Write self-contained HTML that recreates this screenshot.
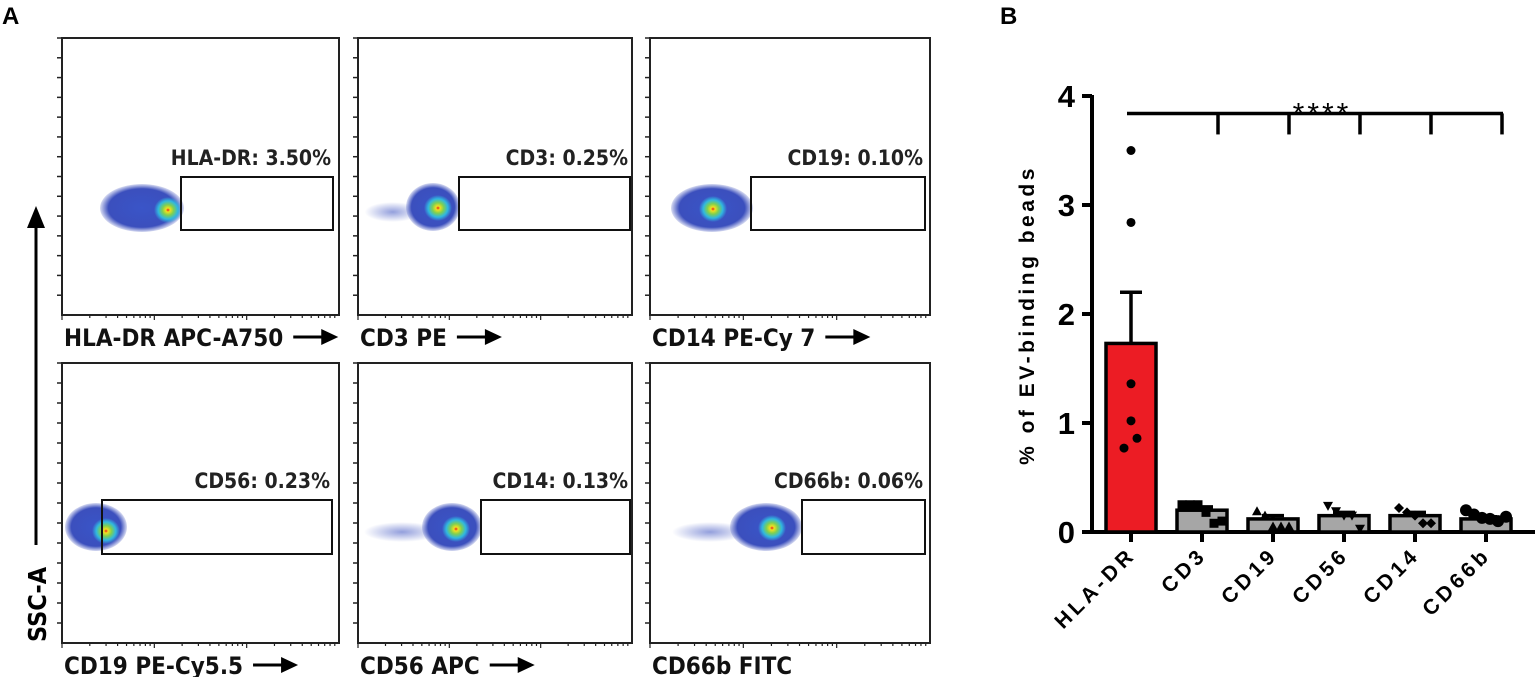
<!DOCTYPE html>
<html><head><meta charset="utf-8"><style>
html,body{margin:0;padding:0;background:#fff}
body{width:1535px;height:677px;overflow:hidden;font-family:"Liberation Sans",sans-serif}
</style></head><body>
<svg id="fig" width="1535" height="677" viewBox="0 0 1535 677" xmlns="http://www.w3.org/2000/svg">
<defs>
<radialGradient id="core">
<stop offset="0" stop-color="#e8201a"/>
<stop offset="0.15" stop-color="#f0e020"/>
<stop offset="0.4" stop-color="#7fd050"/>
<stop offset="0.7" stop-color="#30b8e0"/>
<stop offset="1" stop-color="#30b8e0" stop-opacity="0"/>
</radialGradient>
<radialGradient id="body">
<stop offset="0" stop-color="#3a55c8"/>
<stop offset="0.8" stop-color="#3b4fbd"/>
<stop offset="1" stop-color="#3b4fbd" stop-opacity="0.2"/>
</radialGradient>
<radialGradient id="tail">
<stop offset="0" stop-color="#3a50c0" stop-opacity="0.55"/>
<stop offset="1" stop-color="#3a50c0" stop-opacity="0"/>
</radialGradient>
</defs>
<text x="2" y="24" font-size="24" font-weight="bold">A</text>
<text x="1000" y="24" font-size="24" font-weight="bold">B</text>
<g id="flow"></g>
<g id="ssc">
<line x1="36" y1="225" x2="36" y2="545" stroke="#000" stroke-width="3"/>
<polygon points="27,228 45,228 36,206" fill="#000"/>
<text transform="translate(46,642) rotate(-90)" font-size="25" font-weight="bold" font-family="DejaVu Sans Condensed, Liberation Sans, sans-serif">SSC-A</text>
</g>
<g id="bars"></g>
</svg>
<script>
const NS="http://www.w3.org/2000/svg";
function mk(tag,attrs,parent){const e=document.createElementNS(NS,tag);for(const k in attrs)e.setAttribute(k,attrs[k]);parent.appendChild(e);return e;}
// ---- Flow panels ----
const flow=document.getElementById('flow');
const panels=[
 {x:62,y:38,w:277,h:277,label:"HLA-DR APC-A750",gate:"HLA-DR: 3.50%",gx:181,gw:152,gy:177,gh:53,cx:142,cy:208,rx:42,ry:24,kx:168,ky:210,tx:0,arrow:true},
 {x:358,y:38,w:274,h:277,label:"CD3 PE",gate:"CD3: 0.25%",gx:459,gw:171,gy:177,gh:53,cx:433,cy:207,rx:27,ry:24,kx:438,ky:208,tx:40,arrow:true},
 {x:650,y:38,w:280,h:277,label:"CD14 PE-Cy 7",gate:"CD19: 0.10%",gx:751,gw:174,gy:177,gh:53,cx:712,cy:208,rx:41,ry:24,kx:713,ky:209,tx:0,arrow:true},
 {x:62,y:363,w:277,h:280,label:"CD19 PE-Cy5.5",gate:"CD56: 0.23%",gx:102,gw:230,gy:500,gh:54,cx:96,cy:527,rx:31,ry:24,kx:106,ky:531,tx:0,arrow:true},
 {x:358,y:363,w:274,h:280,label:"CD56 APC",gate:"CD14: 0.13%",gx:481,gw:149,gy:500,gh:54,cx:452,cy:527,rx:30,ry:24,kx:456,ky:529,tx:60,arrow:true},
 {x:650,y:363,w:280,h:280,label:"CD66b FITC",gate:"CD66b: 0.06%",gx:802,gw:123,gy:500,gh:54,cx:766,cy:527,rx:36,ry:24,kx:772,ky:528,tx:60,arrow:false}
];
panels.forEach((p,i)=>{
 const g=mk('g',{},flow);
 
 
 if(p.tx>0){mk('ellipse',{cx:p.cx-p.rx-p.tx/3,cy:p.cy+5,rx:p.tx/2+8,ry:10,fill:'url(#tail)'},g);}
 const c=mk('ellipse',{cx:p.cx,cy:p.cy,rx:p.rx,ry:p.ry,fill:'url(#body)'},g);
 
 
 mk('ellipse',{cx:p.kx,cy:p.ky,rx:14,ry:13,fill:'url(#core)'},g);
 mk('rect',{x:p.x,y:p.y,width:p.w,height:p.h,fill:'none',stroke:'#222','stroke-width':2},g);
 for(let k=0;k<15;k++){const ty=p.y+k*(p.h/14);if(ty>p.y+p.h-2)break;mk('line',{x1:p.x-5,y1:ty,x2:p.x,y2:ty,stroke:'#222','stroke-width':1.5},g);}
 for(let d=0;d<3;d++){for(let m=1;m<10;m++){const tx=p.x+(d+Math.log10(m))*(p.w/3);mk('line',{x1:tx,y1:p.y+p.h,x2:tx,y2:p.y+p.h+(m==1?5:3),stroke:'#222','stroke-width':1.2},g);}}
 const gate=mk('rect',{x:p.gx,y:p.gy,width:p.gw,height:p.gh,fill:'none',stroke:'#111','stroke-width':2},g);
 
 
 const gt=mk('text',{x:p.gx+p.gw-2,y:p.gy-12,'text-anchor':'end','font-size':21,'font-weight':'bold',fill:'#222','font-family':'DejaVu Sans Condensed, Liberation Sans, sans-serif'},g);
 gt.textContent=p.gate;
 
 
 const lt=mk('text',{x:p.x+2,y:p.y+p.h+31,'font-size':24,'font-weight':'bold',fill:'#111','font-family':'DejaVu Sans Condensed, Liberation Sans, sans-serif'},g);
 lt.textContent=p.label;
 
 
 if(p.arrow){
  const bb=lt.getComputedTextLength();
  const ax=p.x+2+bb+10;
  const ay=p.y+p.h+22;
  mk('line',{x1:ax,y1:ay,x2:ax+32,y2:ay,stroke:'#000','stroke-width':3},g);
  mk('polygon',{points:`${ax+28},${ay-8} ${ax+45},${ay} ${ax+28},${ay+8}`,fill:'#000'},g);
 }
});
// ---- Bar chart ----
const categories=["HLA-DR","CD3","CD19","CD56","CD14","CD66b"];
const means=[1.73,0.20,0.12,0.15,0.15,0.12];
const sems=[0.47,0.03,0.03,0.03,0.03,0.02];
const pts0=[3.5,2.84,1.36,1.02,0.86,0.77];
const pts1=[0.25,0.25,0.25,0.18,0.08,0.10];
const pts2=[0.19,0.15,0.05,0.05,0.05];
const pts3=[0.24,0.19,0.15,0.15,0.03];
const pts4=[0.22,0.18,0.15,0.08,0.08];
const pts5=[0.20,0.16,0.13,0.12,0.10,0.14];
const yTicks=[0,1,2,3,4];
const sigLabel="****";
const allPts=[pts0,pts1,pts2,pts3,pts4,pts5];
const markers=["circle","square","triangle","down","diamond","circle"];
const Y0=532,Y4=96,X0=1131,DX=71,BW=50;
const yS=v=>Y0-(v/4)*(Y0-Y4);
const xS=i=>X0+i*DX;
const bars=document.getElementById('bars');
const ya=mk('line',{x1:1092,y1:Y4-1,x2:1092,y2:Y0+2,stroke:'#000','stroke-width':4},bars);

const xa=mk('line',{x1:1083,y1:Y0,x2:1535,y2:Y0,stroke:'#000','stroke-width':4},bars);

yTicks.forEach(v=>{
 mk('line',{x1:1082,y1:yS(v),x2:1092,y2:yS(v),stroke:'#000','stroke-width':4},bars);
 const t=mk('text',{x:1075,y:yS(v)+11,'text-anchor':'end','font-size':31,'font-weight':'bold'},bars);
 t.textContent=v;
 
 
});
const yt=mk('text',{transform:'translate(1034,315) rotate(-90)','text-anchor':'middle','font-size':21,'font-weight':'bold','letter-spacing':'3.5'},bars);
yt.textContent="% of EV-binding beads";

categories.forEach((c,i)=>{
 const x=xS(i);
 const eb=mk('g',{},bars);
 
 
 mk('line',{x1:x,y1:yS(means[i]),x2:x,y2:yS(means[i]+sems[i]),stroke:'#000','stroke-width':3.5},eb);
 mk('line',{x1:x-11,y1:yS(means[i]+sems[i]),x2:x+11,y2:yS(means[i]+sems[i]),stroke:'#000','stroke-width':3.5},eb);
 const r=mk('rect',{x:x-BW/2,y:yS(means[i]),width:BW,height:Y0-yS(means[i]),fill:i==0?'#ec1c24':'#a6a6a6',stroke:'#000','stroke-width':3.5},bars);
 
 
 allPts[i].forEach((v,j)=>{
  const n=allPts[i].length;
  const px=x+(j-(n-1)/2)*(i==0?0:8)+(i==0?[0,0,0,0,6,-7][j]:0);
  const py=yS(v);
  let m;
  const mkType=markers[i];
  if(mkType=="circle")m=mk('circle',{cx:px,cy:py,r:i==5?6:4.5,fill:'#000'},bars);
  else if(mkType=="square")m=mk('rect',{x:px-4.5,y:py-4.5,width:9,height:9,fill:'#000'},bars);
  else if(mkType=="triangle")m=mk('polygon',{points:`${px},${py-5} ${px-5},${py+4} ${px+5},${py+4}`,fill:'#000'},bars);
  else if(mkType=="down")m=mk('polygon',{points:`${px},${py+5} ${px-5},${py-4} ${px+5},${py-4}`,fill:'#000'},bars);
  else m=mk('polygon',{points:`${px},${py-5} ${px+5},${py} ${px},${py+5} ${px-5},${py}`,fill:'#000'},bars);
  
  
 });
 mk('line',{x1:x,y1:Y0,x2:x,y2:Y0+10,stroke:'#000','stroke-width':4},bars);
 const t=mk('text',{transform:`translate(${x+6},${Y0+24}) rotate(-45)`,'text-anchor':'end','font-size':21,'font-weight':'bold','letter-spacing':'4'},bars);
 t.textContent=c;
 
 
});
const sg=mk('g',{},bars);


const sy=yS(3.84);
mk('line',{x1:xS(0)-4,y1:sy,x2:xS(5)+17,y2:sy,stroke:'#000','stroke-width':3.5},sg);
for(let i=1;i<6;i++){const x=xS(i)+16;mk('line',{x1:x,y1:sy,x2:x,y2:sy+21,stroke:'#000','stroke-width':3.5},sg);}
const st=mk('text',{x:1322,y:sy+10,'text-anchor':'middle','font-size':30,'letter-spacing':'3'},sg);
st.textContent=sigLabel;
</script>
</body></html>
